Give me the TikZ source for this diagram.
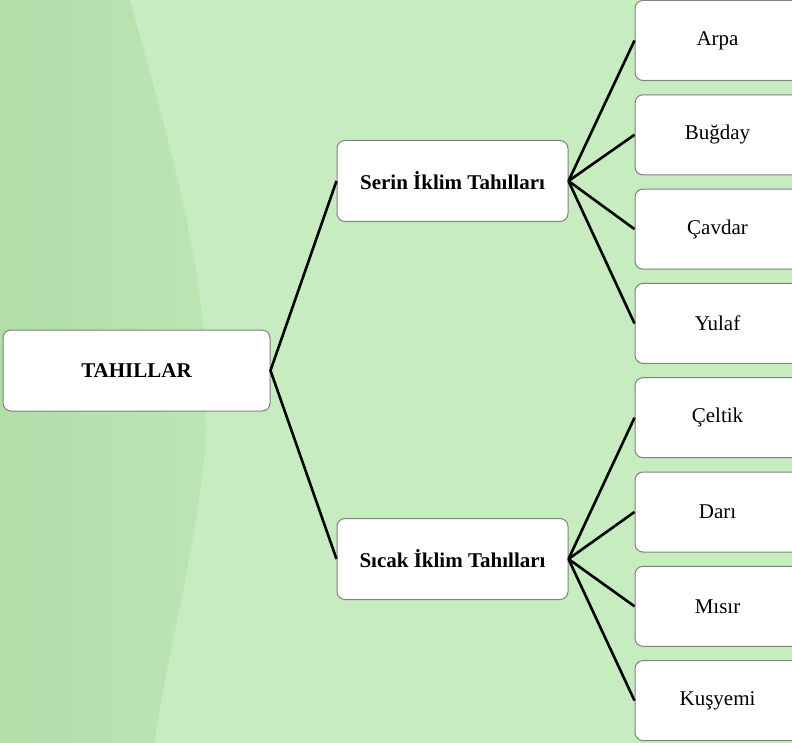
\documentclass[tikz,border=0pt]{standalone}
\usepackage{fontspec}
\setmainfont{Liberation Serif}
\definecolor{bgdark}{RGB}{178,222,170}
\definecolor{bgmid}{RGB}{188,229,180}
\definecolor{bglight}{RGB}{198,236,191}
\definecolor{bgband}{RGB}{202,236,196}
\definecolor{boxline}{RGB}{128,128,128}
\begin{document}
\begin{tikzpicture}[x=1pt,y=-1pt,
  box/.style={draw=boxline,line width=1pt,fill=white,rounded corners=8pt,inner sep=0pt,
    font=\fontsize{21}{25}\selectfont,align=center},
  rootbox/.style={box,minimum width=267pt,minimum height=81pt,font=\fontsize{21}{25}\selectfont\bfseries},
  midbox/.style={box,minimum width=231pt,minimum height=81pt,font=\fontsize{21}{25}\selectfont\bfseries},
  leafbox/.style={box,minimum width=165pt,minimum height=80pt},
  link/.style={line width=2.6pt,black}]
\useasboundingbox (0,0) rectangle (792,743);
\clip (0,0) rectangle (792,743);
% background
\fill[bglight] (0,0) rectangle (792,743);
\shade[left color=bgdark,right color=bgmid] (0,0) -- (130,0) .. controls (180,180) and (215,300) .. (205,450) .. controls (195,560) and (165,660) .. (155,743) -- (0,743) -- cycle;
\fill[bgband,opacity=0.6] (130,0) .. controls (180,180) and (215,300) .. (205,450) .. controls (195,560) and (165,660) .. (155,743) -- (320,743) .. controls (300,600) and (290,400) .. (240,200) .. controls (220,120) and (200,50) .. (190,0) -- cycle;
% nodes
\node[rootbox] (root) at (136.5,370.5) {TAHILLAR};
\node[midbox] (serin) at (452.5,181) {Serin İklim Tahılları};
\node[midbox] (sicak) at (452.5,559) {Sıcak İklim Tahılları};
\node[leafbox] (l1) at (717.5,40.5) {Arpa};
\node[leafbox] (l2) at (717.5,134.8) {Buğday};
\node[leafbox] (l3) at (717.5,229.1) {Çavdar};
\node[leafbox] (l4) at (717.5,323.4) {Yulaf};
\node[leafbox] (l5) at (717.5,417.7) {Çeltik};
\node[leafbox] (l6) at (717.5,512) {Darı};
\node[leafbox] (l7) at (717.5,606.3) {Mısır};
\node[leafbox] (l8) at (717.5,700.6) {Kuşyemi};
% connectors
\draw[link] (serin.west) -- (root.east) -- (sicak.west);
\foreach \i in {1,2,3,4} \draw[link] (serin.east) -- (l\i.west);
\foreach \i in {5,6,7,8} \draw[link] (sicak.east) -- (l\i.west);
\end{tikzpicture}
\end{document}
